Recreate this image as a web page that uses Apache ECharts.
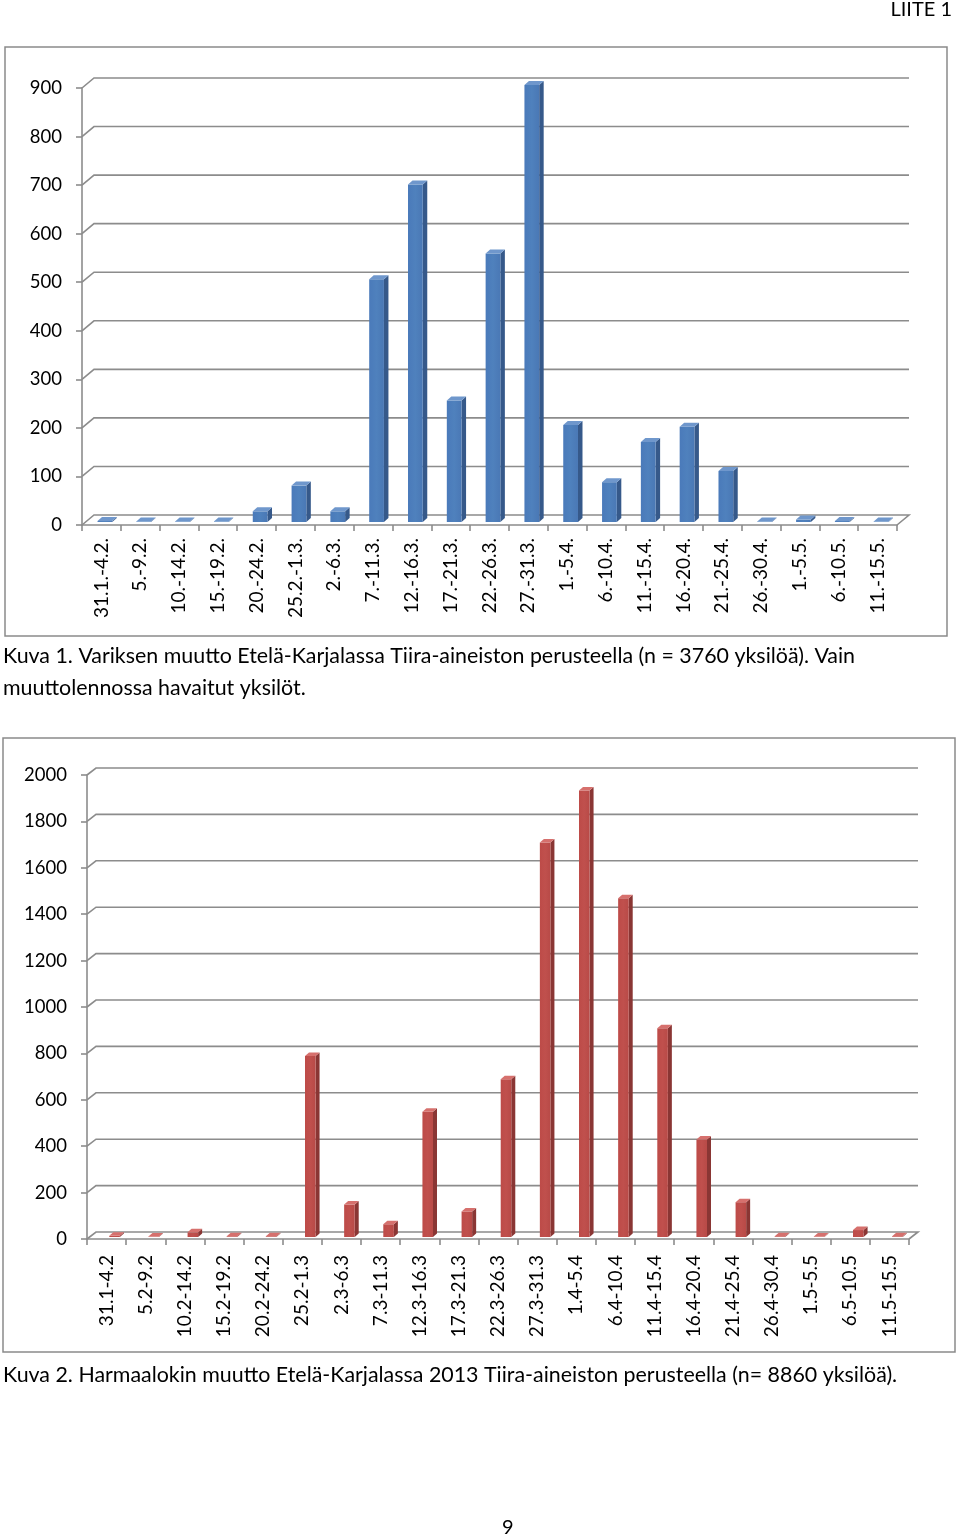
<!DOCTYPE html>
<html>
<head>
<meta charset="utf-8">
<script src="https://cdn.jsdelivr.net/npm/echarts@6/dist/echarts.min.js"></script>
<style>
html,body{margin:0;padding:0;background:#fff;}
#page{width:960px;height:1537px;}
</style>
</head>
<body>
<div id="page"></div>
<script>
// ---- Data ----
const categories1 = ['31.1.-4.2.','5.-9.2.','10.-14.2.','15.-19.2.','20.-24.2.','25.2.-1.3.','2.-6.3.','7.-11.3.','12.-16.3.','17.-21.3.','22.-26.3.','27.-31.3.','1.-5.4.','6.-10.4.','11.-15.4.','16.-20.4.','21.-25.4.','26.-30.4.','1.-5.5.','6.-10.5.','11.-15.5.'];
const values1 = [2,1,1,1,22,75,22,500,695,250,553,900,200,82,165,196,105,1,5,2,1];
const yTicks1 = [0,100,200,300,400,500,600,700,800,900];

const categories2 = ['31.1-4.2','5.2-9.2','10.2-14.2','15.2-19.2','20.2-24.2','25.2-1.3','2.3-6.3','7.3-11.3','12.3-16.3','17.3-21.3','22.3-26.3','27.3-31.3','1.4-5.4','6.4-10.4','11.4-15.4','16.4-20.4','21.4-25.4','26.4-30.4','1.5-5.5','6.5-10.5','11.5-15.5'];
const values2 = [5,2,20,3,3,780,140,55,540,110,680,1700,1925,1460,900,420,150,3,2,30,3];
const yTicks2 = [0,200,400,600,800,1000,1200,1400,1600,1800,2000];

const caption1a = 'Kuva 1. Variksen muutto Etelä-Karjalassa Tiira-aineiston perusteella (n = 3760 yksilöä). Vain';
const caption1b = 'muuttolennossa havaitut yksilöt.';
const caption2 = 'Kuva 2. Harmaalokin muutto Etelä-Karjalassa 2013 Tiira-aineiston perusteella (n= 8860 yksilöä).';

// ---- Rendering ----
const FONT = 'Lato, "Open Sans", sans-serif';
const GRID_COLOR = '#8c8c8c';

function wallItem(dx, dy, n) {
  return function (params, api) {
    const v = api.value(1);
    const bw = api.size([1, 0])[0];
    const p0 = api.coord([0, v]);
    const pn = api.coord([n - 1, v]);
    const xl = p0[0] - bw / 2, xr = pn[0] + bw / 2, y = p0[1];
    const pts = [[xl, y], [xl + dx, y - dy], [xr + dx, y - dy]];
    if (v === 0) pts.push([xr, y]);
    return {
      type: 'polyline',
      shape: { points: pts },
      style: { stroke: GRID_COLOR, lineWidth: 1.6, fill: null }
    };
  };
}

function barItem(cfg) {
  return function (params, api) {
    const i = api.value(0), v = api.value(1);
    const top = api.coord([i, v]);
    const base = api.coord([i, 0]);
    const bw = api.size([1, 0])[0];
    const w = bw * cfg.wFrac;
    const x0 = top[0] - w / 2 + cfg.xShift, x1 = x0 + w;
    const yT = top[1] - cfg.yShift, yB = base[1] - cfg.yShift;
    const sx = cfg.sx, sy = cfg.sy;
    return {
      type: 'group',
      children: [
        { type: 'polygon', shape: { points: [[x1, yB], [x1 + sx, yB - sy], [x1 + sx, yT - sy], [x1, yT]] }, style: { fill: cfg.side } },
        { type: 'rect', shape: { x: x0, y: yT, width: w, height: Math.max(0, yB - yT) },
          style: { fill: new echarts.graphic.LinearGradient(0, 0, 1, 0, [
            { offset: 0, color: cfg.frontL }, { offset: 0.5, color: cfg.front }, { offset: 1, color: cfg.frontR }]) } },
        { type: 'polygon', shape: { points: [[x0, yT], [x1, yT], [x1 + sx, yT - sy], [x0 + sx, yT - sy]] }, style: { fill: cfg.top } }
      ]
    };
  };
}

const blue = { wFrac: 0.38, xShift: 3.5, yShift: 3, sx: 4.5, sy: 4,
  front: '#4f81bd', frontL: '#4a7aba', frontR: '#4a78b5', side: '#36598a', top: '#6f97cc' };
const red = { wFrac: 0.27, xShift: 8, yShift: 2, sx: 4, sy: 3.5,
  front: '#c0504d', frontL: '#bd4b48', frontR: '#b84a47', side: '#8a3634', top: '#d6706d' };

const xLabelStyle = { fontFamily: FONT, fontSize: 19, color: '#000' };
const yLabelStyle = { fontFamily: FONT, fontSize: 18.5, color: '#000', formatter: v => String(v) };

const option = {
  backgroundColor: '#fff',
  animation: false,
  grid: [
    { left: 82, top: 88, width: 815, height: 437 },
    { left: 87, top: 775, width: 822, height: 464 }
  ],
  xAxis: [
    { gridIndex: 0, type: 'category', data: categories1, boundaryGap: true,
      axisLine: { show: true, lineStyle: { color: GRID_COLOR, width: 1.6 } },
      axisTick: { show: true, interval: 0, length: 6, lineStyle: { color: GRID_COLOR, width: 1.6 } },
      axisLabel: Object.assign({ rotate: 90, interval: 0, margin: 13 }, xLabelStyle) },
    { gridIndex: 1, type: 'category', data: categories2, boundaryGap: true,
      axisLine: { show: true, lineStyle: { color: GRID_COLOR, width: 1.6 } },
      axisTick: { show: true, interval: 0, length: 6, lineStyle: { color: GRID_COLOR, width: 1.6 } },
      axisLabel: Object.assign({ rotate: 90, interval: 0, margin: 16 }, xLabelStyle) }
  ],
  yAxis: [
    { gridIndex: 0, type: 'value', min: yTicks1[0], max: yTicks1[yTicks1.length - 1], interval: yTicks1[1] - yTicks1[0],
      axisLine: { show: true, lineStyle: { color: GRID_COLOR, width: 1.6 } },
      axisTick: { show: true, length: 6, lineStyle: { color: GRID_COLOR, width: 1.6 } },
      splitLine: { show: false },
      axisLabel: Object.assign({ margin: 20 }, yLabelStyle) },
    { gridIndex: 1, type: 'value', min: yTicks2[0], max: yTicks2[yTicks2.length - 1], interval: yTicks2[1] - yTicks2[0],
      axisLine: { show: true, lineStyle: { color: GRID_COLOR, width: 1.6 } },
      axisTick: { show: true, length: 6, lineStyle: { color: GRID_COLOR, width: 1.6 } },
      splitLine: { show: false },
      axisLabel: Object.assign({ margin: 20 }, yLabelStyle) }
  ],
  series: [
    { type: 'custom', xAxisIndex: 0, yAxisIndex: 0, z: 1, silent: true,
      renderItem: wallItem(12, 10, categories1.length),
      data: yTicks1.map(v => [0, v]) },
    { type: 'custom', xAxisIndex: 0, yAxisIndex: 0, z: 5, silent: true,
      renderItem: barItem(blue),
      data: values1.map((v, i) => [i, v]) },
    { type: 'custom', xAxisIndex: 1, yAxisIndex: 1, z: 1, silent: true,
      renderItem: wallItem(9, 7, categories2.length),
      data: yTicks2.map(v => [0, v]) },
    { type: 'custom', xAxisIndex: 1, yAxisIndex: 1, z: 5, silent: true,
      renderItem: barItem(red),
      data: values2.map((v, i) => [i, v]) }
  ],
  graphic: [
    { type: 'rect', shape: { x: 5, y: 47, width: 942, height: 589 }, style: { fill: null, stroke: '#8a8a8a', lineWidth: 1.5 }, z: 0 },
    { type: 'rect', shape: { x: 3, y: 738, width: 952, height: 614 }, style: { fill: null, stroke: '#8a8a8a', lineWidth: 1.5 }, z: 0 },
    { type: 'text', right: 8, top: 0, style: { text: 'LIITE 1', font: '20px ' + FONT, fill: '#000' } },
    { type: 'text', left: 3, top: 646, style: { text: caption1a, font: '21.4px ' + FONT, fill: '#000' } },
    { type: 'text', left: 3, top: 678, style: { text: caption1b, font: '21.4px ' + FONT, fill: '#000' } },
    { type: 'text', left: 3, top: 1365, style: { text: caption2, font: '21.4px ' + FONT, fill: '#000' } },
    { type: 'text', left: 502, top: 1518, style: { text: '9', font: '20px ' + FONT, fill: '#000' } }
  ]
};

const chart = echarts.init(document.getElementById('page'), null, { renderer: 'canvas', width: 960, height: 1537 });
chart.setOption(option);
</script>
</body>
</html>
